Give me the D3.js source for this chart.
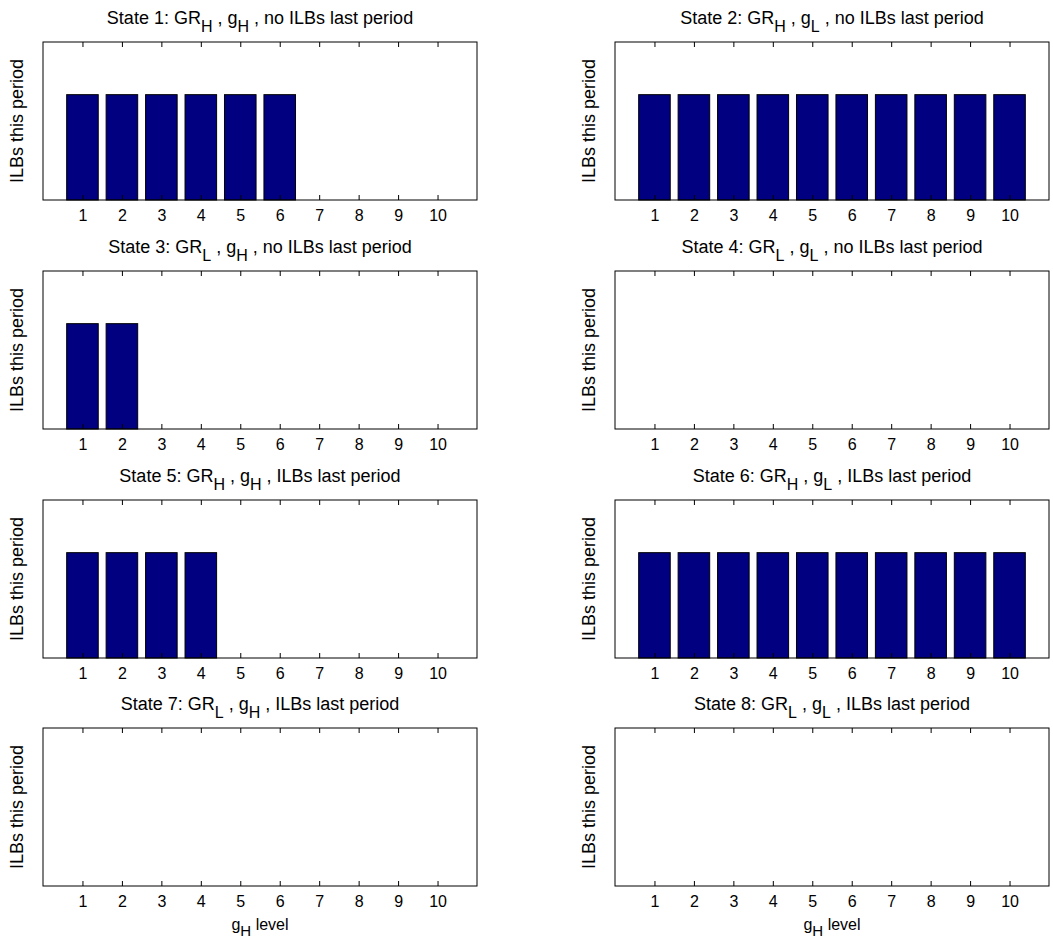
<!DOCTYPE html>
<html><head><meta charset="utf-8">
<script src="https://cdn.jsdelivr.net/npm/d3@7"></script>
<style>body{margin:0;background:#fff}text{font-family:"Liberation Sans",Arial,sans-serif}</style>
</head><body><svg id="c" width="1053" height="941"></svg>
<script>
const levels=[1,2,3,4,5,6,7,8,9,10];
const states=[
 {n:1,gr:"H",g:"H",last:"no ILBs last period"},
 {n:2,gr:"H",g:"L",last:"no ILBs last period"},
 {n:3,gr:"L",g:"H",last:"no ILBs last period"},
 {n:4,gr:"L",g:"L",last:"no ILBs last period"},
 {n:5,gr:"H",g:"H",last:"ILBs last period"},
 {n:6,gr:"H",g:"L",last:"ILBs last period"},
 {n:7,gr:"L",g:"H",last:"ILBs last period"},
 {n:8,gr:"L",g:"L",last:"ILBs last period"}];
const values=[
 [1,1,1,1,1,1,0,0,0,0],
 [1,1,1,1,1,1,1,1,1,1],
 [1,1,0,0,0,0,0,0,0,0],
 [0,0,0,0,0,0,0,0,0,0],
 [1,1,1,1,0,0,0,0,0,0],
 [1,1,1,1,1,1,1,1,1,1],
 [0,0,0,0,0,0,0,0,0,0],
 [0,0,0,0,0,0,0,0,0,0]];
const svg=d3.select("#c");
const colX=[43,615], rowY=[42,271,500,728], W=434, H=158;
states.forEach((s,i)=>{
  const x0=colX[i%2], y0=rowY[Math.floor(i/2)];
  const g=svg.append("g").attr("transform",`translate(${x0},${y0})`);
  const x=d3.scaleLinear().domain([0,11]).range([0,W]);
  const y=d3.scaleLinear().domain([0,1.5]).range([H,0]);
  g.selectAll("rect.b").data(values[i]).join("rect").attr("class","b")
   .attr("x",(d,j)=>x(levels[j]-0.4)).attr("width",x(0.8)-x(0))
   .attr("y",d=>y(d)).attr("height",d=>Math.max(0,y(0)-y(d)))
   .attr("fill","#000080").attr("stroke","#000").attr("stroke-width",1);
  g.append("rect").attr("width",W).attr("height",H).attr("fill","none").attr("stroke","#000").attr("stroke-width",1);
  const ax=g.append("g").attr("transform",`translate(0,${H})`)
   .call(d3.axisBottom(x).tickValues(levels).tickSize(-5).tickPadding(10).tickFormat(d3.format("d")));
  ax.select(".domain").remove();
  ax.selectAll("text").attr("font-size",16).attr("fill","#000");
  const at=g.append("g").call(d3.axisTop(x).tickValues(levels).tickSize(-5).tickFormat(""));
  at.select(".domain").remove();
  const t=g.append("text").attr("x",W/2).attr("y",-18).attr("text-anchor","middle").attr("font-size",18);
  t.append("tspan").text(`State ${s.n}: GR`);
  t.append("tspan").attr("dy",8).attr("font-size",16).text(s.gr);
  t.append("tspan").attr("dy",-8).text(" , g");
  t.append("tspan").attr("dy",8).attr("font-size",16).text(s.g);
  t.append("tspan").attr("dy",-8).text(" , "+s.last);
  g.append("text").attr("transform",`translate(-20,${H/2}) rotate(-90)`).attr("text-anchor","middle").attr("font-size",18).text("ILBs this period");
  if(i>=6){
    const xl=g.append("text").attr("x",W/2).attr("y",H+44).attr("text-anchor","middle").attr("font-size",16);
    xl.append("tspan").text("g");
    xl.append("tspan").attr("dy",6).attr("font-size",15).text("H");
    xl.append("tspan").attr("dy",-6).text(" level");
  }
});
</script></body></html>
